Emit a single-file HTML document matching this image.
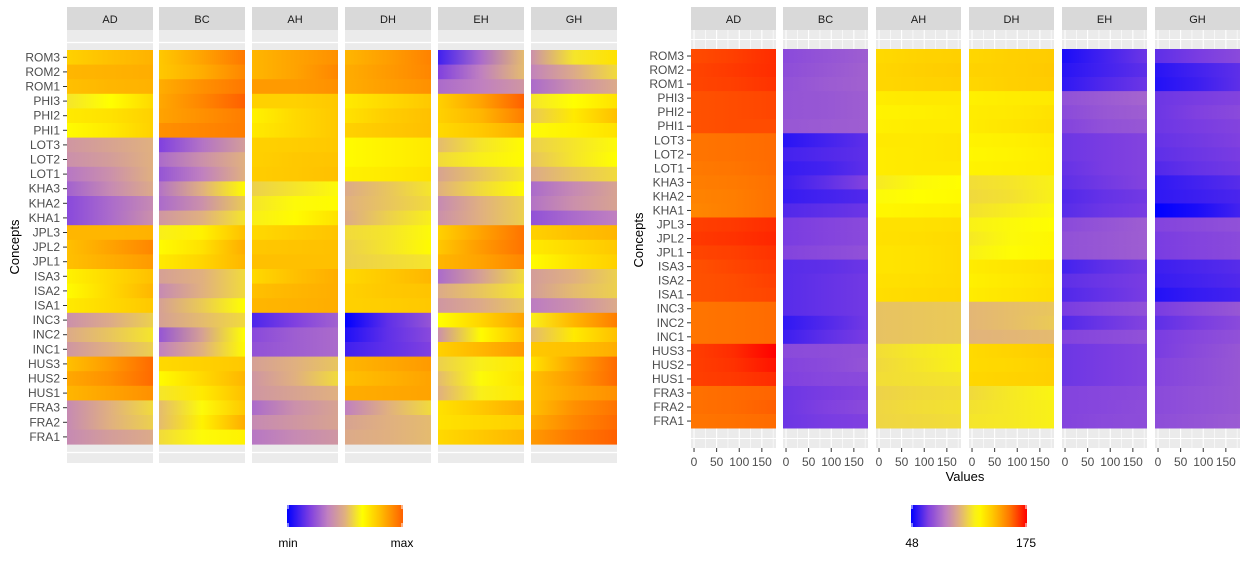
<!DOCTYPE html>
<html><head><meta charset="utf-8"><style>
body{margin:0;background:#fff;font-family:"Liberation Sans",sans-serif}
svg text{font-family:"Liberation Sans",sans-serif}
</style></head><body>
<svg id="c" width="1248" height="562" xmlns="http://www.w3.org/2000/svg"></svg>
<script>
const concepts=["ROM3","ROM2","ROM1","PHI3","PHI2","PHI1","LOT3","LOT2","LOT1","KHA3","KHA2","KHA1","JPL3","JPL2","JPL1","ISA3","ISA2","ISA1","INC3","INC2","INC1","HUS3","HUS2","HUS1","FRA3","FRA2","FRA1"];
const facets=["AD","BC","AH","DH","EH","GH"];
const xTicks=[0,50,100,150];
const xTickLabels=["0","50","100","150"];
const rightMin=48, rightMax=175;
// left panel: normalized values (left, middle, right of each row)
const leftAD=[[.76,.80,.83],[.82,.83,.84],[.80,.82,.83],[.6,.65,.74],[.7,.72,.76],[.66,.7,.76],[.42,.46,.5],[.4,.44,.5],[.33,.4,.5],[.28,.38,.48],[.22,.3,.38],[.22,.3,.4],[.82,.82,.83],[.8,.86,.92],[.8,.84,.88],[.68,.74,.8],[.66,.74,.82],[.7,.74,.78],[.4,.48,.56],[.48,.54,.6],[.42,.5,.56],[.8,.88,.98],[.85,.9,.98],[.82,.86,.9],[.38,.5,.58],[.38,.5,.56],[.38,.44,.48]];
const leftBC=[[.78,.86,.95],[.78,.84,.92],[.84,.9,.95],[.85,.92,1],[.86,.9,.94],[.9,.92,.94],[.2,.32,.44],[.3,.4,.5],[.25,.35,.5],[.32,.5,.66],[.3,.4,.55],[.42,.5,.6],[.62,.68,.8],[.66,.72,.84],[.7,.75,.82],[.45,.5,.58],[.38,.5,.58],[.45,.55,.65],[.45,.52,.58],[.25,.45,.65],[.35,.5,.66],[.74,.76,.78],[.66,.74,.82],[.6,.7,.8],[.52,.64,.78],[.52,.68,.84],[.58,.64,.68]];
const leftAH=[[.82,.86,.9],[.82,.86,.92],[.88,.88,.9],[.76,.76,.78],[.68,.74,.78],[.7,.74,.78],[.76,.77,.78],[.76,.78,.79],[.77,.78,.8],[.56,.6,.64],[.6,.64,.66],[.62,.66,.72],[.74,.77,.79],[.78,.79,.8],[.8,.8,.8],[.74,.8,.84],[.8,.82,.84],[.82,.83,.84],[.12,.2,.28],[.22,.27,.3],[.24,.27,.3],[.45,.5,.54],[.42,.5,.58],[.42,.46,.5],[.3,.4,.46],[.38,.42,.46],[.33,.38,.42]];
const leftDH=[[.82,.87,.93],[.84,.88,.92],[.84,.87,.9],[.7,.74,.78],[.72,.77,.8],[.76,.78,.8],[.66,.68,.7],[.66,.68,.7],[.68,.7,.72],[.48,.54,.6],[.5,.54,.58],[.48,.56,.62],[.58,.6,.64],[.56,.6,.66],[.56,.58,.6],[.74,.78,.82],[.76,.78,.79],[.76,.77,.78],[0,.15,.25],[.05,.15,.22],[.1,.15,.2],[.82,.85,.88],[.8,.83,.86],[.84,.85,.86],[.35,.5,.58],[.46,.5,.52],[.48,.5,.52]];
const leftEH=[[.1,.3,.52],[.2,.35,.52],[.3,.35,.42],[.76,.86,1],[.76,.82,.94],[.74,.78,.84],[.52,.6,.66],[.58,.62,.66],[.46,.54,.6],[.5,.58,.66],[.38,.5,.56],[.4,.5,.56],[.76,.86,.96],[.78,.88,.96],[.82,.86,.92],[.3,.45,.58],[.48,.54,.6],[.42,.48,.54],[.65,.75,.86],[.4,.66,.8],[.76,.82,.88],[.56,.62,.7],[.52,.64,.72],[.5,.62,.7],[.72,.78,.84],[.72,.74,.76],[.74,.78,.82]];
const leftGH=[[.4,.6,.72],[.36,.48,.58],[.3,.4,.48],[.6,.65,.72],[.55,.7,.8],[.64,.68,.72],[.56,.6,.64],[.54,.6,.65],[.48,.54,.58],[.3,.38,.46],[.32,.4,.46],[.24,.3,.35],[.76,.8,.82],[.7,.74,.78],[.66,.72,.76],[.44,.5,.56],[.44,.52,.56],[.34,.4,.48],[.62,.82,.94],[.52,.7,.8],[.78,.8,.84],[.72,.86,.98],[.8,.88,.98],[.8,.86,.9],[.8,.9,.96],[.84,.92,.98],[.88,.95,1]];
// right panel: raw values
const rightAD=[[163,165,168],[164,166,168],[164,165,167],[162,163,164],[162,163,164],[162,163,163],[156,157,158],[156,157,158],[155,156,158],[154,155,157],[153,154,157],[152,154,157],[165,166,168],[166,167,169],[164,165,167],[162,164,166],[162,163,165],[162,163,164],[156,157,158],[156,157,158],[156,157,158],[165,168,175],[165,167,172],[165,166,168],[157,158,159],[157,158,160],[156,157,158]];
const rightBC=[[70,73,76],[71,74,77],[72,75,77],[73,74,76],[73,74,76],[74,75,76],[54,58,62],[58,60,62],[56,58,62],[57,62,68],[56,58,60],[60,62,64],[66,68,70],[66,68,70],[68,70,72],[61,62,64],[61,63,65],[61,63,65],[61,63,65],[55,60,65],[57,62,66],[70,71,72],[68,70,73],[67,69,70],[64,66,68],[64,67,70],[64,66,67]];
const rightAH=[[132,134,135],[133,135,136],[133,134,135],[127,128,128],[125,126,127],[126,127,127],[128,128,129],[127,128,129],[127,128,128],[116,120,122],[120,122,123],[124,125,126],[130,130,131],[130,131,132],[129,130,132],[129,130,132],[130,131,132],[131,132,133],[106,107,108],[106,107,108],[106,107,108],[113,116,118],[112,115,118],[113,114,115],[110,112,113],[111,113,114],[111,112,113]];
const rightDH=[[133,135,136],[134,135,137],[133,135,136],[126,127,128],[127,128,130],[127,129,131],[125,126,128],[124,125,127],[125,126,127],[113,115,118],[112,114,118],[114,117,120],[118,120,122],[116,120,124],[118,121,124],[127,129,131],[126,128,130],[127,129,131],[103,105,107],[103,105,108],[102,103,104],[132,134,136],[132,133,135],[133,134,135],[112,116,119],[114,116,118],[115,116,118]];
const rightEH=[[52,58,64],[54,58,62],[55,60,64],[72,75,78],[70,74,76],[68,72,74],[64,66,68],[64,66,68],[63,66,68],[62,65,68],[60,63,65],[61,64,66],[70,73,76],[72,74,76],[72,74,76],[58,62,65],[62,64,66],[60,63,66],[66,69,72],[60,64,68],[68,70,72],[64,66,68],[64,66,68],[64,66,68],[68,69,70],[68,69,71],[68,70,71]];
const rightGH=[[62,66,70],[54,58,62],[53,57,62],[64,66,68],[64,67,70],[64,66,68],[63,65,67],[62,64,66],[60,63,65],[55,58,61],[55,57,59],[48,52,58],[68,70,72],[66,68,70],[66,68,70],[57,59,61],[56,58,60],[53,56,58],[66,70,74],[62,66,70],[66,69,72],[66,70,74],[68,71,74],[68,71,74],[70,72,74],[70,72,74],[71,73,75]];
const leftData=[leftAD,leftBC,leftAH,leftDH,leftEH,leftGH];
const rightData=[rightAD,rightBC,rightAH,rightDH,rightEH,rightGH];

const NS="http://www.w3.org/2000/svg";
const svg=document.getElementById('c');
const defs=document.createElementNS(NS,'defs');svg.appendChild(defs);
function el(t,a,p){const e=document.createElementNS(NS,t);for(const k in a)e.setAttribute(k,a[k]);(p||svg).appendChild(e);return e;}
function hex(h){return [parseInt(h.slice(1,3),16),parseInt(h.slice(3,5),16),parseInt(h.slice(5,7),16)];}
function mk(stops){return t=>{t=Math.max(0,Math.min(1,t));for(let i=1;i<stops.length;i++){if(t<=stops[i][0]){const a=stops[i-1],b=stops[i];const f=(t-a[0])/(b[0]-a[0]);const A=hex(a[1]),B=hex(b[1]);return 'rgb('+A.map((v,j)=>Math.round(v+(B[j]-v)*f)).join(',')+')';}}return stops[stops.length-1][1];};}
const leftScale=mk([[0,'#0000ff'],[.2,'#8040e0'],[.35,'#c080c0'],[.5,'#e0b080'],[.65,'#ffff00'],[.8,'#ffc000'],[1,'#ff6000']]);
const rightScale=mk([[0,'#0000ff'],[.15,'#8040e0'],[.3,'#c080c0'],[.42,'#e0b080'],[.58,'#ffff00'],[.72,'#ffc000'],[.86,'#ff7000'],[1,'#ff0000']]);
let gid=0;
function grad(cols){const id='g'+(gid++);const g=el('linearGradient',{id:id,x1:0,x2:1,y1:0,y2:0},defs);cols.forEach((c,i)=>el('stop',{offset:i/(cols.length-1),'stop-color':c},g));return 'url(#'+id+')';}

// left panel
const Lx=[67,159,252,345,438,531], Lw=86, Ltop=50, Lrow=14.6;
facets.forEach((f,fi)=>{
  const x=Lx[fi];
  const s=el('rect',{x:x,y:7,width:Lw,height:23,fill:'#d9d9d9'});
  
  const t=el('text',{x:x+Lw/2,y:23,'font-size':11,'text-anchor':'middle',fill:'#1a1a1a'});t.textContent=f;
  el('rect',{x:x,y:30,width:Lw,height:433,fill:'#ebebeb'});
  el('line',{x1:x,x2:x+Lw,y1:42.5,y2:42.5,stroke:'#fff','stroke-width':1.2});
  el('line',{x1:x,x2:x+Lw,y1:452.5,y2:452.5,stroke:'#fff','stroke-width':1.2});
  leftData[fi].forEach((vals,ri)=>{
    const r=el('rect',{x:x,y:Ltop+ri*Lrow,width:Lw,height:Lrow+0.4,fill:grad(vals.map(leftScale))});
    
    
  });
});
concepts.forEach((c,ri)=>{const y=Ltop+(ri+.5)*Lrow;
  const t=el('text',{x:60,y:y+4,'font-size':12,'text-anchor':'end',fill:'#4d4d4d'});t.textContent=c;
  el('line',{x1:63,x2:67,y1:y,y2:y,stroke:'#333'});});
const ly=el('text',{x:0,y:0,'font-size':13,'text-anchor':'middle',fill:'#000',transform:'translate(19,247) rotate(-90)'});ly.textContent='Concepts';


// right panel
const Rx=[691,783,876,969,1062,1155], Rw=85, Rtop=49, Rrow=14.04, dmin=-6.7, dmax=181.3;
const xs=(fi,v)=>Rx[fi]+(v-dmin)/(dmax-dmin)*Rw;
facets.forEach((f,fi)=>{
  const x=Rx[fi];
  const s=el('rect',{x:x,y:7,width:Rw,height:23,fill:'#d9d9d9'});
  
  const t=el('text',{x:x+Rw/2,y:23,'font-size':11,'text-anchor':'middle',fill:'#1a1a1a'});t.textContent=f;
  el('rect',{x:x,y:30,width:Rw,height:418,fill:'#ebebeb'});
  for(let v=0;v<=175;v+=25){const gx=xs(fi,v);el('line',{x1:gx,x2:gx,y1:30,y2:448,stroke:'#fff','stroke-width':v%50?0.6:1.1});}
  el('line',{x1:x,x2:x+Rw,y1:39.5,y2:39.5,stroke:'#fff','stroke-width':1.1});
  el('line',{x1:x,x2:x+Rw,y1:438.5,y2:438.5,stroke:'#fff','stroke-width':1.1});
  rightData[fi].forEach((vals,ri)=>{
    const r=el('rect',{x:x,y:Rtop+ri*Rrow,width:Rw,height:Rrow+0.4,fill:grad(vals.map(v=>rightScale((v-rightMin)/(rightMax-rightMin))))});
    
    
  });
  xTicks.forEach((v,i)=>{const tx=xs(fi,v);el('line',{x1:tx,x2:tx,y1:448,y2:452,stroke:'#333'});
    const l=el('text',{x:tx,y:466,'font-size':12,'text-anchor':'middle',fill:'#4d4d4d'});l.textContent=xTickLabels[i];});
});
concepts.forEach((c,ri)=>{const y=Rtop+(ri+.5)*Rrow;
  const t=el('text',{x:684,y:y+4,'font-size':12,'text-anchor':'end',fill:'#4d4d4d'});t.textContent=c;
  el('line',{x1:687,x2:691,y1:y,y2:y,stroke:'#333'});});
const ry=el('text',{x:0,y:0,'font-size':13,'text-anchor':'middle',fill:'#000',transform:'translate(643,240) rotate(-90)'});ry.textContent='Concepts';

const rx=el('text',{x:965,y:481,'font-size':13,'text-anchor':'middle',fill:'#000'});rx.textContent='Values';


// legends
function legend(x,scale,l1,l2,name){
  const cols=[];for(let i=0;i<=20;i++)cols.push(scale(i/20));
  const r=el('rect',{x:x,y:505,width:116,height:22,fill:grad(cols)});
  
  [x+1,x+115].forEach(tx=>{el('line',{x1:tx,x2:tx,y1:505,y2:509,stroke:'#fff'});el('line',{x1:tx,x2:tx,y1:523,y2:527,stroke:'#fff'});});
  const a=el('text',{x:x+1,y:547,'font-size':12,'text-anchor':'middle',fill:'#000'});a.textContent=l1;
  const b=el('text',{x:x+115,y:547,'font-size':12,'text-anchor':'middle',fill:'#000'});b.textContent=l2;
}
legend(287,leftScale,'min','max','legend-left');
legend(911,rightScale,String(rightMin),String(rightMax),'legend-right');
</script>
</body></html>
